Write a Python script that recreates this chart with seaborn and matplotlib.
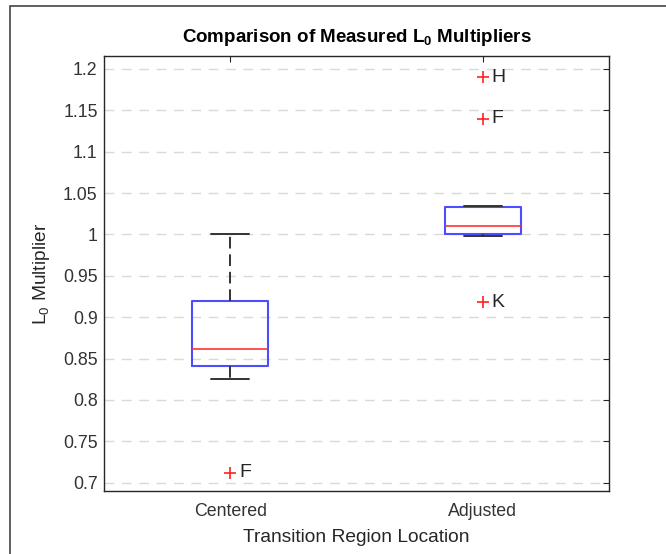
import matplotlib
matplotlib.use("Agg")
import matplotlib.pyplot as plt
import seaborn as sns
import pandas as pd
import numpy as np
from matplotlib.ticker import FuncFormatter
from matplotlib.patches import Rectangle

# ---- data ----
categories = ["Centered", "Adjusted"]
centered_vals = [0.712, 0.825, 0.838, 0.844, 0.855, 0.862, 0.890, 0.915, 0.925, 0.960, 1.000]
centered_lbls = ["F", "", "", "", "", "", "", "", "", "", ""]
adjusted_vals = [0.918, 0.998, 0.999, 1.001, 1.005, 1.010, 1.020, 1.032, 1.034, 1.140, 1.190]
adjusted_lbls = ["K", "", "", "", "", "", "", "", "", "F", "H"]
yticks = [0.7, 0.75, 0.8, 0.85, 0.9, 0.95, 1.0, 1.05, 1.1, 1.15, 1.2]

df = pd.DataFrame({
    "loc": [categories[0]] * len(centered_vals) + [categories[1]] * len(adjusted_vals),
    "val": centered_vals + adjusted_vals,
    "lbl": centered_lbls + adjusted_lbls,
})

sns.set_theme(style="white")
plt.rcParams["font.family"] = ["Liberation Sans", "DejaVu Sans"]
plt.rcParams["mathtext.fontset"] = "custom"
plt.rcParams["mathtext.rm"] = "Liberation Sans"
plt.rcParams["mathtext.it"] = "Liberation Sans:italic"
plt.rcParams["mathtext.bf"] = "Liberation Sans:bold"

fig = plt.figure(figsize=(6.66, 5.54), dpi=100)
ax = fig.add_axes([104 / 666, 1 - 491 / 554, (609 - 104) / 666, (491 - 56) / 554])

ax.yaxis.grid(True, linestyle=(0, (7, 5.5)), color="#d9d9d9", linewidth=1.0)
ax.set_axisbelow(True)

sns.boxplot(
    data=df, x="loc", y="val", order=categories, ax=ax, width=0.3,
    whis=1.5, fill=False, linewidth=1.5,
    boxprops=dict(color="#4d4dff", linewidth=1.5),
    medianprops=dict(color="#ff3333", linewidth=1.2),
    whiskerprops=dict(color="#333333", linestyle=(0, (6, 3)), linewidth=1.4),
    capprops=dict(color="#333333", linewidth=1.4),
    flierprops=dict(marker="+", markeredgecolor="#ff2020", markerfacecolor="#ff2020",
                    markersize=9, markeredgewidth=1.2),
)

# annotate outliers with their test labels
for i, cat in enumerate(categories):
    sub = df[(df["loc"] == cat) & (df["lbl"] != "")]
    for _, r in sub.iterrows():
        ax.annotate(r["lbl"], (i, r["val"]), xytext=(6.5, 0), textcoords="offset points",
                    va="center", ha="left", fontsize=14, color="#262626")

ax.set_xlim(-0.5, 1.5)
ax.set_ylim(0.690, 1.2157)
ax.set_yticks(yticks)
ax.yaxis.set_major_formatter(FuncFormatter(lambda v, p: f"{v:g}"))

for s in ax.spines.values():
    s.set_visible(True)
    s.set_color("#262626")
    s.set_linewidth(1.0)
ax.tick_params(axis="both", direction="in", length=4, width=0.8, colors="#262626",
               labelsize=12.8, labelcolor="#333333", top=True, right=True)
ax.tick_params(axis="y", pad=4.5)
ax.tick_params(axis="x", pad=9)

ax.set_xlabel("Transition Region Location", fontsize=13.8, color="#262626", labelpad=6)
ax.set_ylabel("L$_0$ Multiplier", fontsize=13.8, color="#262626", labelpad=8)
ax.set_title("Comparison of Measured L$_\\mathbf{0}$ Multipliers", fontsize=13.5,
             fontweight="bold", color="black", pad=10)

# window frame seen in the screenshot
fig.add_artist(Rectangle((10 / 666, -0.01), 1.0, 1 - 6 / 554 + 0.01,
                         transform=fig.transFigure, fill=False,
                         edgecolor="#444444", linewidth=1.2))

fig.savefig("out.png", dpi=100)
